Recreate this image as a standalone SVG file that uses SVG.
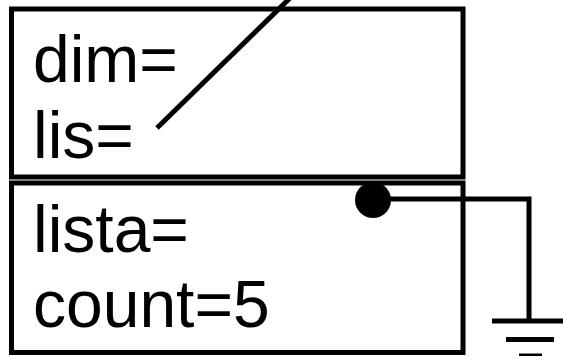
<svg xmlns="http://www.w3.org/2000/svg" width="563" height="356" viewBox="0 0 563 356">
<style>
.box{fill:#fff;stroke:#000;stroke-width:5}
.lbl{font-family:"Liberation Sans",Arial,sans-serif;font-size:66px;fill:#000}
.wire{fill:none;stroke:#000;stroke-width:5}
</style>
<rect width="563" height="356" fill="#fff"/>
<g id="node-top">
<rect class="box" x="11.5" y="9" width="451.5" height="168"/>
<text class="lbl" x="33" y="82">dim=</text>
<text class="lbl" x="33" y="158">lis=</text>
</g>
<g id="node-bottom">
<rect class="box" x="11.5" y="183" width="451.5" height="169.5"/>
<text class="lbl" x="33" y="252">lista=</text>
<text class="lbl" x="33" y="327">count=5</text>
</g>
<g id="connectors">
<line class="wire" x1="157" y1="128" x2="290" y2="-2"/>
<circle cx="373" cy="200" r="18" fill="#000"/>
<polyline class="wire" points="373,199 529,199 529,321"/>
<line class="wire" x1="492" y1="321" x2="563" y2="321" stroke-width="5.5"/>
<line class="wire" x1="506" y1="339.5" x2="554" y2="339.5" stroke-width="5.5"/>
<line class="wire" x1="519" y1="356" x2="542" y2="356" stroke-width="5.5"/>
</g>
</svg>
